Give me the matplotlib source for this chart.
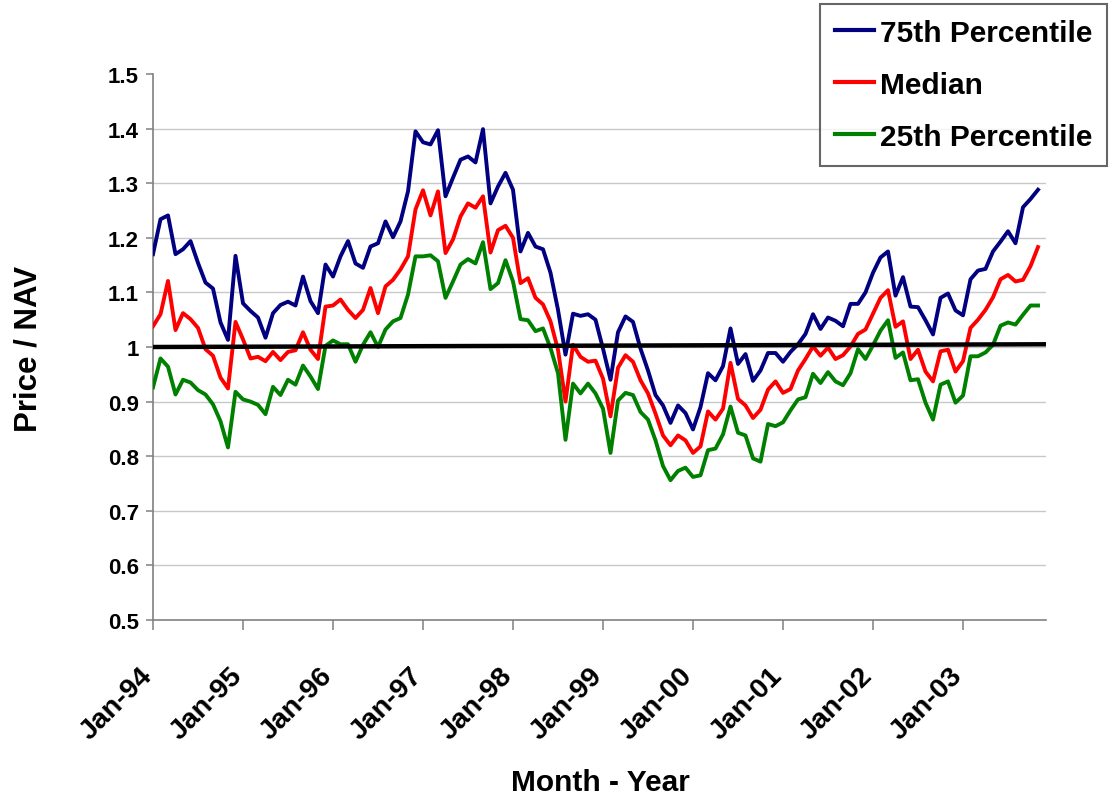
import matplotlib
matplotlib.use("Agg")
import matplotlib.pyplot as plt
from matplotlib.transforms import ScaledTranslation

# ---- data (monthly, Jan-94 .. Nov-03) ----
p75 = [1.170, 1.234, 1.241, 1.170, 1.179, 1.194, 1.154, 1.118, 1.107, 1.045,
       1.013, 1.167, 1.080, 1.066, 1.054, 1.017, 1.062, 1.077, 1.083, 1.076,
       1.129, 1.084, 1.062, 1.151, 1.129, 1.166, 1.194, 1.153, 1.145, 1.184,
       1.190, 1.230, 1.201, 1.230, 1.285, 1.395, 1.375, 1.371, 1.397, 1.276,
       1.310, 1.343, 1.349, 1.338, 1.399, 1.263, 1.294, 1.319, 1.288, 1.175,
       1.209, 1.184, 1.179, 1.136, 1.068, 0.986, 1.061, 1.057, 1.060, 1.050,
       0.997, 0.940, 1.027, 1.056, 1.046, 0.997, 0.957, 0.912, 0.893, 0.861,
       0.893, 0.879, 0.849, 0.890, 0.952, 0.939, 0.965, 1.034, 0.969, 0.987,
       0.938, 0.957, 0.989, 0.989, 0.973, 0.991, 1.005, 1.024, 1.060, 1.033,
       1.054, 1.048, 1.038, 1.079, 1.079, 1.100, 1.136, 1.164, 1.175, 1.094,
       1.128, 1.074, 1.073, 1.049, 1.023, 1.090, 1.098, 1.067, 1.058, 1.124,
       1.140, 1.143, 1.175, 1.193, 1.212, 1.190, 1.256, 1.271, 1.288]
median = [1.038, 1.060, 1.121, 1.031, 1.062, 1.051, 1.035, 0.996, 0.984, 0.944,
          0.924, 1.046, 1.014, 0.979, 0.982, 0.974, 0.991, 0.976, 0.991, 0.994,
          1.027, 0.995, 0.978, 1.074, 1.076, 1.087, 1.068, 1.053, 1.068, 1.108,
          1.062, 1.111, 1.123, 1.142, 1.166, 1.252, 1.287, 1.241, 1.285, 1.172,
          1.197, 1.239, 1.263, 1.255, 1.276, 1.173, 1.214, 1.222, 1.200, 1.117,
          1.126, 1.090, 1.078, 1.047, 0.995, 0.900, 1.004, 0.982, 0.973, 0.975,
          0.942, 0.873, 0.962, 0.985, 0.973, 0.939, 0.915, 0.878, 0.838, 0.820,
          0.838, 0.829, 0.806, 0.818, 0.882, 0.867, 0.887, 0.971, 0.905, 0.893,
          0.870, 0.885, 0.922, 0.937, 0.916, 0.923, 0.957, 0.978, 1.001, 0.984,
          0.999, 0.978, 0.985, 1.001, 1.024, 1.032, 1.061, 1.090, 1.104, 1.037,
          1.047, 0.978, 0.995, 0.955, 0.937, 0.992, 0.995, 0.955, 0.974, 1.035,
          1.050, 1.068, 1.091, 1.124, 1.132, 1.120, 1.123, 1.148, 1.183]
p25 = [0.926, 0.979, 0.964, 0.913, 0.940, 0.935, 0.921, 0.913, 0.895, 0.864,
       0.816, 0.918, 0.904, 0.900, 0.894, 0.877, 0.927, 0.912, 0.940, 0.931,
       0.966, 0.946, 0.923, 1.002, 1.012, 1.005, 1.005, 0.973, 1.004, 1.027,
       1.000, 1.032, 1.047, 1.053, 1.096, 1.166, 1.166, 1.168, 1.157, 1.090,
       1.120, 1.151, 1.161, 1.153, 1.192, 1.106, 1.117, 1.159, 1.120, 1.051,
       1.049, 1.029, 1.034, 0.998, 0.952, 0.830, 0.933, 0.915, 0.933, 0.915,
       0.887, 0.806, 0.902, 0.916, 0.912, 0.881, 0.867, 0.829, 0.782, 0.756,
       0.773, 0.779, 0.762, 0.765, 0.811, 0.814, 0.840, 0.891, 0.843, 0.838,
       0.796, 0.790, 0.859, 0.855, 0.862, 0.884, 0.904, 0.908, 0.951, 0.934,
       0.954, 0.937, 0.930, 0.952, 0.996, 0.978, 1.003, 1.030, 1.049, 0.980,
       0.990, 0.939, 0.941, 0.898, 0.867, 0.931, 0.937, 0.898, 0.911, 0.983,
       0.983, 0.990, 1.004, 1.039, 1.045, 1.041, 1.059, 1.076, 1.076]
tick_labels = ["Jan-94", "Jan-95", "Jan-96", "Jan-97", "Jan-98",
               "Jan-99", "Jan-00", "Jan-01", "Jan-02", "Jan-03"]
n_categories = 120          # Jan-94 .. Dec-03 on the category axis
ref_level = [1.0, 1.005]    # black reference line (start, end)

FONT = "Liberation Sans"
fig = plt.figure(figsize=(11.10, 8.03), dpi=100)
ax = fig.add_axes([153/1110, 1-621/803, (1045.5-153)/1110, (621-75)/803])

x = list(range(len(p75)))
ax.plot(x, p75, color="#000080", lw=2.8, label="75th Percentile", zorder=3)
ax.plot(x, median, color="#FF0000", lw=2.8, label="Median", zorder=3)
ax.plot(x, p25, color="#008000", lw=2.8, label="25th Percentile", zorder=3)
ax.plot([0, n_categories - 1], ref_level, color="black", lw=3.2, zorder=4)

ax.set_xlim(0, n_categories - 1)
ax.set_ylim(0.5, 1.5)
ax.set_yticks([0.5 + 0.1*i for i in range(11)])
ax.set_yticklabels(["0.5", "0.6", "0.7", "0.8", "0.9", "1", "1.1", "1.2", "1.3", "1.4", "1.5"])
ax.set_xticks([12*i for i in range(len(tick_labels))])
ax.set_xticklabels(tick_labels)

for s in ["top", "right"]:
    ax.spines[s].set_visible(False)
for s in ["left", "bottom"]:
    ax.spines[s].set_color("#808080")
    ax.spines[s].set_linewidth(1.2)

ax.yaxis.grid(True, color="#c8c8c8", lw=1.0)
gl = ax.get_ygridlines()
gl[0].set_visible(False)
gl[-1].set_visible(False)
ax.set_axisbelow(True)

ax.tick_params(axis="y", direction="out", length=5, width=1.1, color="#808080", pad=5)
ax.tick_params(axis="x", direction="out", length=7, width=1.1, color="#808080", pad=30)
for lab in ax.get_yticklabels():
    lab.set_fontfamily(FONT); lab.set_fontweight("bold"); lab.set_fontsize(16)
for lab in ax.get_xticklabels():
    lab.set_fontfamily(FONT); lab.set_fontweight("bold"); lab.set_fontsize(20.5)
    lab.set_rotation(45); lab.set_ha("right"); lab.set_va("center")
    lab.set_rotation_mode("anchor")
    lab.set_transform(lab.get_transform() + ScaledTranslation(-0.05, 0, fig.dpi_scale_trans))

fig.text(600/1110, 1-783/803, "Month - Year", ha="center", va="center",
         fontfamily=FONT, fontweight="bold", fontsize=21.5)
fig.text(29/1110, 1-349/803, "Price / NAV", ha="center", va="center", rotation=90,
         fontfamily=FONT, fontweight="bold", fontsize=22.5)

leg = fig.legend(loc="upper right", bbox_to_anchor=(1107/1110, 1-5/803),
                 prop={"family": FONT, "weight": "bold", "size": 21.5},
                 frameon=True, fancybox=False, handlelength=1.3, handletextpad=0.2,
                 borderpad=0.5, labelspacing=0.8, borderaxespad=0)
leg.get_frame().set_edgecolor("#404040")
leg.get_frame().set_linewidth(1.5)
for h in leg.get_lines():
    h.set_linewidth(3.0)

fig.savefig("out.png", dpi=100)
